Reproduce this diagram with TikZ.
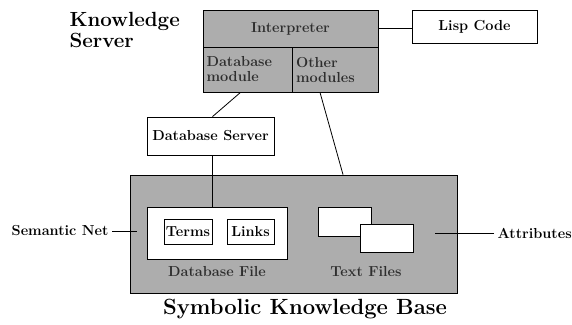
\documentclass[tikz,border=0pt]{standalone}
\usepackage{tikz}
\usetikzlibrary{calc}
\definecolor{shade}{gray}{0.68}
\definecolor{boxtext}{gray}{0.18}
\tikzset{
  gbox/.style={draw, fill=shade, line width=0.8pt, inner sep=0pt},
  wbox/.style={draw, fill=white, line width=0.8pt, inner sep=0pt},
  lab/.style={font=\fontsize{14.5}{15}\selectfont\bfseries},
  inlab/.style={lab, text=boxtext},
  head/.style={font=\fontsize{20.5}{21}\selectfont\bfseries},
  link/.style={draw, line width=0.8pt}
}

\begin{document}
\begin{tikzpicture}[x=1pt, y=-1pt]
  \useasboundingbox (0,0) rectangle (572,324);

  % knowledge server
  \node[head, align=left, anchor=west] (ks) at (66,30) {Knowledge\\Server};
  \node[gbox, inlab, minimum width=175, minimum height=37] (interp) at (290.5,28.5) {Interpreter};
  \node[gbox, inlab, minimum width=89, minimum height=45, align=left, text width=82] (dbmod) at (247.5,69.5) {Database\\module};
  \node[gbox, inlab, minimum width=86, minimum height=45, align=left, text width=78] (othmod) at (335,69.5) {Other\\modules};
  \node[wbox, lab, minimum width=125, minimum height=33] (lisp) at (474.5,26.5) {Lisp Code};
  \draw[link] (interp.east) -- (interp.east -| lisp.west);

  % database server
  \node[wbox, lab, minimum width=127, minimum height=38] (dbsrv) at (210.5,136) {Database Server};
  \draw[link] ([xshift=-7pt]dbmod.south) -- ([xshift=2pt]dbsrv.north);

  % knowledge base
  \node[gbox, minimum width=327, minimum height=118] (kb) at (293.5,234) {};
  \node[wbox, minimum width=140, minimum height=52] (dbfile) at (217,233) {};
  \node[wbox, lab, minimum width=48, minimum height=25] (terms) at (188,231.5) {Terms};
  \node[wbox, lab, minimum width=47, minimum height=25] (links) at (250.5,231.5) {Links};
  \node[inlab] (dbfilelab) at (217,272) {Database File};
  \node[wbox, minimum width=53, minimum height=29] (txt1) at (344.5,221.5) {};
  \node[wbox, minimum width=53, minimum height=28] (txt2) at (386.5,238) {};
  \node[inlab] (txtlab) at (366,272) {Text Files};
  \draw[link] ([xshift=2pt]dbsrv.south) -- ([xshift=2pt]dbsrv.south |- dbfile.north);
  \draw[link] ([xshift=-15pt]othmod.south) -- ([xshift=49.5pt]kb.north);

  % side labels
  \node[lab, anchor=east] (semnet) at (112,231) {Semantic Net};
  \draw[link] (semnet.east) -- ([xshift=7pt]kb.west |- semnet.east);
  \node[lab, anchor=west] (attr) at (494,233) {Attributes};
  \draw[link] (attr.west) -- ([xshift=-22pt]kb.east |- attr.west);

  \node[head, font=\fontsize{22}{23}\selectfont\bfseries] (title) at (305,309) {Symbolic Knowledge Base};
\end{tikzpicture}
\end{document}
